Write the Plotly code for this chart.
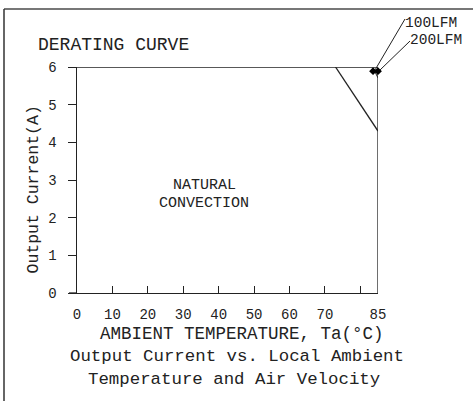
import plotly.graph_objects as go

# Data
x_ticks = [0, 10, 20, 30, 40, 50, 60, 70, 80, 85]
x_tick_labels = ["0", "10", "20", "30", "40", "50", "60", "70", "", "85"]
y_ticks = [0, 1, 2, 3, 4, 5, 6]
y_tick_labels = ["0", "1", "2", "3", "4", "5", "6"]

lfm200_x = [0, 85, 85]
lfm200_y = [6, 6, 0]
natural_x = [73, 85]
natural_y = [6, 4.3]
lfm100_x = [83.6, 85]
lfm100_y = [5.97, 5.71]
marker_x = [83.6, 85.0]
marker_y = [5.89, 5.89]

FONT = "Liberation Mono"
INK = "#222222"

# plot area in pixels
L, R, T, B = 77, 378, 67, 293
PW, PH = R - L, B - T


def px(xp):
    return (xp - L) / PW


def py(yp):
    return (B - yp) / PH


def dx(xp):
    return (xp - L) / PW * 85


def dy(yp):
    return (B - yp) / PH * 6


fig = go.Figure()
fig.add_trace(go.Scatter(x=lfm200_x, y=lfm200_y, mode="lines",
                         line=dict(color=INK, width=1.3), name="200LFM"))
fig.add_trace(go.Scatter(x=natural_x, y=natural_y, mode="lines",
                         line=dict(color=INK, width=1.3), name="Natural"))
fig.add_trace(go.Scatter(x=lfm100_x, y=lfm100_y, mode="lines",
                         line=dict(color=INK, width=1), name="100LFM"))
fig.add_trace(go.Scatter(x=marker_x, y=marker_y, mode="markers",
                         marker=dict(symbol="diamond", size=6, color="black"),
                         name="pts", cliponaxis=False))

fig.update_layout(
    width=473, height=401,
    margin=dict(l=L, r=473 - R, t=T, b=401 - B),
    paper_bgcolor="white", plot_bgcolor="white",
    showlegend=False,
    font=dict(family=FONT, size=13, color=INK),
    xaxis=dict(range=[0, 85], tickvals=x_ticks, ticktext=x_tick_labels,
               ticks="inside", ticklen=7, tickcolor=INK, tickwidth=1.2,
               showline=True, linecolor=INK, linewidth=1.3,
               showgrid=False, zeroline=False, fixedrange=True,
               ticklabelstandoff=8, tickangle=0,
               tickfont=dict(family=FONT, size=14, color=INK)),
    yaxis=dict(range=[0, 6], tickvals=y_ticks,
               ticktext=[t + "\u00a0" for t in y_tick_labels],
               ticks="outside", ticklen=8, tickcolor=INK, tickwidth=1.2,
               showline=True, linecolor=INK, linewidth=1.3,
               showgrid=False, zeroline=False, fixedrange=True,
               tickangle=0,
               tickfont=dict(family=FONT, size=14, color=INK)),
)

# x-axis line extension left of y-axis
fig.add_shape(type="line", xref="paper", yref="paper",
              x0=px(69), x1=0, y0=0, y1=0, line=dict(color=INK, width=1.3))

# frame border
fig.add_shape(type="line", xref="paper", yref="paper",
              x0=px(4), x1=px(474), y0=py(9), y1=py(9),
              line=dict(color="#777777", width=2))
fig.add_shape(type="line", xref="paper", yref="paper",
              x0=px(4), x1=px(4), y0=py(9), y1=py(402),
              line=dict(color="#333333", width=1.5))

# leader lines for the air-velocity labels
fig.add_shape(type="line", xref="paper", yref="paper",
              x0=px(405), y0=py(19), x1=px(375), y1=py(70),
              line=dict(color=INK, width=1))
fig.add_shape(type="line", xref="paper", yref="paper",
              x0=px(410), y0=py(41), x1=px(380), y1=py(70),
              line=dict(color=INK, width=1))

fig.add_annotation(text="DERATING CURVE", xref="paper", yref="paper",
                   x=px(36), y=py(45), xanchor="left", yanchor="middle",
                   showarrow=False, font=dict(family=FONT, size=18, color=INK))
fig.add_annotation(text="NATURAL", xref="x", yref="y",
                   x=dx(204), y=dy(185), showarrow=False,
                   font=dict(family=FONT, size=15, color=INK))
fig.add_annotation(text="CONVECTION", xref="x", yref="y",
                   x=dx(204), y=dy(203), showarrow=False,
                   font=dict(family=FONT, size=15, color=INK))
fig.add_annotation(text="Output Current(A)", xref="paper", yref="paper",
                   x=px(21), y=py(190), textangle=-90, showarrow=False,
                   font=dict(family=FONT, size=16.5, color=INK))
fig.add_annotation(text="AMBIENT TEMPERATURE, Ta(°C)", xref="paper", yref="paper",
                   x=px(242), y=py(346), showarrow=False,
                   font=dict(family=FONT, size=17.5, color=INK))
fig.add_annotation(text="Output Current vs. Local Ambient", xref="paper", yref="paper",
                   x=px(237), y=py(368), showarrow=False,
                   font=dict(family=FONT, size=17.4, color=INK))
fig.add_annotation(text="Temperature and Air Velocity", xref="paper", yref="paper",
                   x=px(234), y=py(391), showarrow=False,
                   font=dict(family=FONT, size=17.4, color=INK))
fig.add_annotation(text="100LFM", xref="paper", yref="paper",
                   x=px(404), y=py(23), xanchor="left", yanchor="middle",
                   showarrow=False, borderpad=0,
                   font=dict(family=FONT, size=14.5, color=INK))
fig.add_annotation(text="200LFM", xref="paper", yref="paper",
                   x=px(409), y=py(39.5), xanchor="left", yanchor="middle",
                   showarrow=False, borderpad=0,
                   font=dict(family=FONT, size=14.5, color=INK))

fig.write_html("out.html", config={"displayModeBar": False},
               post_script="document.body.style.margin='0';document.body.style.padding='0';")
